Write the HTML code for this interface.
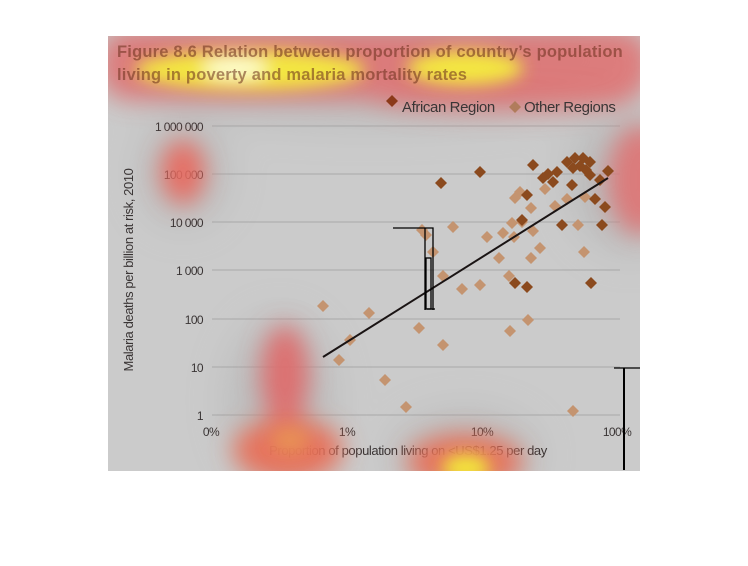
<!DOCTYPE html>
<html><head><meta charset="utf-8"><style>
html,body{margin:0;padding:0;background:#fff;width:748px;height:566px;overflow:hidden}
svg{display:block}
text{font-family:"Liberation Sans",sans-serif}
</style></head><body>
<svg width="748" height="566" viewBox="0 0 748 566" xmlns="http://www.w3.org/2000/svg">
<defs>
<filter id="b1" x="-50%" y="-50%" width="200%" height="200%"><feGaussianBlur stdDeviation="12"/></filter>
<filter id="b2" x="-50%" y="-50%" width="200%" height="200%"><feGaussianBlur stdDeviation="8"/></filter>
<filter id="b3" x="-50%" y="-50%" width="200%" height="200%"><feGaussianBlur stdDeviation="22"/></filter>
<clipPath id="c"><rect x="108" y="36" width="532" height="435"/></clipPath>
</defs>
<rect x="108" y="36" width="532" height="435" fill="#cbcbcb"/>
<g clip-path="url(#c)">
<g filter="url(#b3)" fill="#9a9a9a" opacity="0.35">
<ellipse cx="370" cy="60" rx="270" ry="60"/>
<ellipse cx="183" cy="172" rx="40" ry="50"/>
<ellipse cx="280" cy="400" rx="50" ry="80"/>
<ellipse cx="465" cy="455" rx="70" ry="40"/>
<ellipse cx="630" cy="180" rx="60" ry="70"/>
</g>
</g>
<g stroke="#a8a8a8" stroke-width="1">
<line x1="212" y1="126" x2="620" y2="126"/><line x1="212" y1="174" x2="620" y2="174"/>
<line x1="212" y1="222" x2="620" y2="222"/><line x1="212" y1="270" x2="620" y2="270"/>
<line x1="212" y1="319" x2="620" y2="319"/><line x1="212" y1="367" x2="620" y2="367"/>
<line x1="212" y1="415" x2="620" y2="415"/>
</g>
<g font-size="12" fill="#3a3535" text-anchor="end" letter-spacing="-0.6">
<text x="203" y="131">1 000 000</text><text x="203" y="179">100 000</text>
<text x="203" y="227">10 000</text><text x="203" y="275">1 000</text>
<text x="203" y="324">100</text><text x="203" y="372">10</text><text x="203" y="420">1</text>
</g>
<g font-size="12" fill="#3a3535" text-anchor="middle" letter-spacing="-0.6">
<text x="211" y="436">0%</text><text x="347" y="436">1%</text><text x="482" y="436">10%</text><text x="617" y="436">100%</text>
</g>
<text x="408" y="455" font-size="13" fill="#3a3535" text-anchor="middle" letter-spacing="-0.4">Proportion of population living on &lt;US$1.25 per day</text>
<text transform="translate(133,270) rotate(-90)" font-size="13" fill="#3a3535" text-anchor="middle" letter-spacing="-0.4">Malaria deaths per billion at risk, 2010</text>
<g clip-path="url(#c)">
<g filter="url(#b1)">
<rect x="100" y="30" width="550" height="70" rx="30" fill="#e46a6a" opacity="0.8"/>
<ellipse cx="500" cy="100" rx="130" ry="14" fill="#e07070" opacity="0.6"/>
<ellipse cx="183" cy="172" rx="22" ry="32" fill="#e86a60" opacity="0.95"/>
<ellipse cx="285" cy="375" rx="24" ry="50" fill="#e06868" opacity="0.9"/>
<ellipse cx="288" cy="450" rx="55" ry="32" fill="#e8705a" opacity="0.95"/>
<ellipse cx="465" cy="462" rx="58" ry="28" fill="#e8705a" opacity="0.95"/>
<ellipse cx="640" cy="180" rx="32" ry="55" fill="#e07070" opacity="0.85"/>
</g>
<g filter="url(#b2)">
<ellipse cx="250" cy="70" rx="115" ry="20" fill="#f6f23a" opacity="0.9"/>
<ellipse cx="465" cy="68" rx="58" ry="17" fill="#f6f23a" opacity="0.9"/>
<ellipse cx="235" cy="68" rx="32" ry="10" fill="#ffffe0" opacity="0.9"/>
<ellipse cx="466" cy="468" rx="24" ry="14" fill="#f2ea3a" opacity="0.95"/>
<ellipse cx="290" cy="440" rx="18" ry="14" fill="#eaa050" opacity="0.6"/>
</g>
</g>
<g opacity="0.55">
<text x="117" y="57" font-size="16.5" font-weight="bold" fill="#6b2e1a" letter-spacing="0.2">Figure 8.6 Relation between proportion of country’s population</text>
<text x="117" y="80" font-size="16.5" font-weight="bold" fill="#6b2e1a" letter-spacing="0.2">living in poverty and malaria mortality rates</text>
</g>
<path d="M386 101l6 -6 6 6 -6 6z" fill="#8b3a1a"/>
<text x="402" y="112" font-size="15" fill="#3a3535" letter-spacing="-0.4">African Region</text>
<path d="M509 107l6 -6 6 6 -6 6z" fill="#b07c5c"/>
<text x="524" y="112" font-size="15" fill="#3a3535" letter-spacing="-0.4">Other Regions</text>
<g fill="#c49470">
<path d="M0 -6l6 6 -6 6 -6 -6z" transform="translate(520,192)"/>
<path d="M0 -6l6 6 -6 6 -6 -6z" transform="translate(515,198)"/>
<path d="M0 -6l6 6 -6 6 -6 -6z" transform="translate(545,189)"/>
<path d="M0 -6l6 6 -6 6 -6 -6z" transform="translate(567,199)"/>
<path d="M0 -6l6 6 -6 6 -6 -6z" transform="translate(585,197)"/>
<path d="M0 -6l6 6 -6 6 -6 -6z" transform="translate(555,206)"/>
<path d="M0 -6l6 6 -6 6 -6 -6z" transform="translate(531,208)"/>
<path d="M0 -6l6 6 -6 6 -6 -6z" transform="translate(453,227)"/>
<path d="M0 -6l6 6 -6 6 -6 -6z" transform="translate(422,230)"/>
<path d="M0 -6l6 6 -6 6 -6 -6z" transform="translate(426,235)"/>
<path d="M0 -6l6 6 -6 6 -6 -6z" transform="translate(487,237)"/>
<path d="M0 -6l6 6 -6 6 -6 -6z" transform="translate(503,233)"/>
<path d="M0 -6l6 6 -6 6 -6 -6z" transform="translate(512,223)"/>
<path d="M0 -6l6 6 -6 6 -6 -6z" transform="translate(522,222)"/>
<path d="M0 -6l6 6 -6 6 -6 -6z" transform="translate(514,237)"/>
<path d="M0 -6l6 6 -6 6 -6 -6z" transform="translate(533,231)"/>
<path d="M0 -6l6 6 -6 6 -6 -6z" transform="translate(578,225)"/>
<path d="M0 -6l6 6 -6 6 -6 -6z" transform="translate(433,252)"/>
<path d="M0 -6l6 6 -6 6 -6 -6z" transform="translate(540,248)"/>
<path d="M0 -6l6 6 -6 6 -6 -6z" transform="translate(499,258)"/>
<path d="M0 -6l6 6 -6 6 -6 -6z" transform="translate(531,258)"/>
<path d="M0 -6l6 6 -6 6 -6 -6z" transform="translate(584,252)"/>
<path d="M0 -6l6 6 -6 6 -6 -6z" transform="translate(443,276)"/>
<path d="M0 -6l6 6 -6 6 -6 -6z" transform="translate(462,289)"/>
<path d="M0 -6l6 6 -6 6 -6 -6z" transform="translate(480,285)"/>
<path d="M0 -6l6 6 -6 6 -6 -6z" transform="translate(509,276)"/>
<path d="M0 -6l6 6 -6 6 -6 -6z" transform="translate(323,306)"/>
<path d="M0 -6l6 6 -6 6 -6 -6z" transform="translate(369,313)"/>
<path d="M0 -6l6 6 -6 6 -6 -6z" transform="translate(419,328)"/>
<path d="M0 -6l6 6 -6 6 -6 -6z" transform="translate(528,320)"/>
<path d="M0 -6l6 6 -6 6 -6 -6z" transform="translate(510,331)"/>
<path d="M0 -6l6 6 -6 6 -6 -6z" transform="translate(443,345)"/>
<path d="M0 -6l6 6 -6 6 -6 -6z" transform="translate(350,340)"/>
<path d="M0 -6l6 6 -6 6 -6 -6z" transform="translate(339,360)"/>
<path d="M0 -6l6 6 -6 6 -6 -6z" transform="translate(385,380)"/>
<path d="M0 -6l6 6 -6 6 -6 -6z" transform="translate(406,407)"/>
<path d="M0 -6l6 6 -6 6 -6 -6z" transform="translate(573,411)"/>
</g>
<g fill="#8b4a1e">
<path d="M0 -6l6 6 -6 6 -6 -6z" transform="translate(533,165)"/>
<path d="M0 -6l6 6 -6 6 -6 -6z" transform="translate(480,172)"/>
<path d="M0 -6l6 6 -6 6 -6 -6z" transform="translate(441,183)"/>
<path d="M0 -6l6 6 -6 6 -6 -6z" transform="translate(567,162)"/>
<path d="M0 -6l6 6 -6 6 -6 -6z" transform="translate(575,158)"/>
<path d="M0 -6l6 6 -6 6 -6 -6z" transform="translate(583,158)"/>
<path d="M0 -6l6 6 -6 6 -6 -6z" transform="translate(590,162)"/>
<path d="M0 -6l6 6 -6 6 -6 -6z" transform="translate(580,166)"/>
<path d="M0 -6l6 6 -6 6 -6 -6z" transform="translate(586,170)"/>
<path d="M0 -6l6 6 -6 6 -6 -6z" transform="translate(573,168)"/>
<path d="M0 -6l6 6 -6 6 -6 -6z" transform="translate(543,178)"/>
<path d="M0 -6l6 6 -6 6 -6 -6z" transform="translate(553,182)"/>
<path d="M0 -6l6 6 -6 6 -6 -6z" transform="translate(557,172)"/>
<path d="M0 -6l6 6 -6 6 -6 -6z" transform="translate(548,174)"/>
<path d="M0 -6l6 6 -6 6 -6 -6z" transform="translate(572,185)"/>
<path d="M0 -6l6 6 -6 6 -6 -6z" transform="translate(590,175)"/>
<path d="M0 -6l6 6 -6 6 -6 -6z" transform="translate(600,180)"/>
<path d="M0 -6l6 6 -6 6 -6 -6z" transform="translate(608,171)"/>
<path d="M0 -6l6 6 -6 6 -6 -6z" transform="translate(595,199)"/>
<path d="M0 -6l6 6 -6 6 -6 -6z" transform="translate(605,207)"/>
<path d="M0 -6l6 6 -6 6 -6 -6z" transform="translate(527,195)"/>
<path d="M0 -6l6 6 -6 6 -6 -6z" transform="translate(522,220)"/>
<path d="M0 -6l6 6 -6 6 -6 -6z" transform="translate(562,225)"/>
<path d="M0 -6l6 6 -6 6 -6 -6z" transform="translate(602,225)"/>
<path d="M0 -6l6 6 -6 6 -6 -6z" transform="translate(515,283)"/>
<path d="M0 -6l6 6 -6 6 -6 -6z" transform="translate(527,287)"/>
<path d="M0 -6l6 6 -6 6 -6 -6z" transform="translate(591,283)"/>
</g>
<line x1="323" y1="357" x2="608" y2="178" stroke="#1a1414" stroke-width="2"/>
<g stroke="#000" fill="none" stroke-width="1.3">
<path d="M393 228H433V310"/><path d="M425 228V310"/>
<rect x="426" y="258" width="5" height="51"/><path d="M427 309H435"/>
<path d="M614 368H640"/>
</g>
<line x1="624" y1="368" x2="624" y2="470" stroke="#000" stroke-width="2"/>
</svg>
</body></html>
